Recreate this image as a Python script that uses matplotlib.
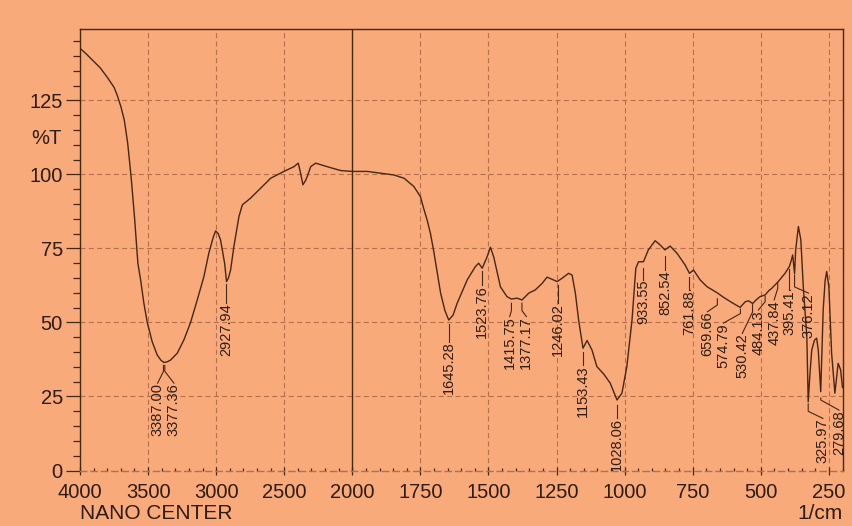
import numpy as np
import matplotlib
matplotlib.use("Agg")
import matplotlib.pyplot as plt
from matplotlib.ticker import FixedLocator

plt.rcParams['font.family'] = ['Liberation Sans', 'DejaVu Sans']

# spectrum (wavenumber 1/cm, %T)
wavenumber = [4000, 3950, 3900, 3850, 3800, 3750, 3725, 3700, 3675, 3650,
              3625, 3600, 3575, 3555, 3531, 3506, 3470, 3433, 3405, 3384,
              3360, 3335, 3286, 3237, 3188, 3139, 3090, 3054, 3020, 3004,
              2985, 2968, 2938, 2924, 2910, 2894, 2870, 2833, 2808, 2747,
              2674, 2600, 2503, 2429, 2397, 2380, 2363, 2345, 2331, 2306,
              2270, 2184, 2086, 2000, 1945, 1896, 1847, 1810, 1774, 1750,
              1738, 1725, 1713, 1701, 1676, 1660, 1646, 1630, 1615, 1578,
              1548, 1536, 1523, 1505, 1493, 1481, 1456, 1432, 1416, 1395,
              1377, 1352, 1328, 1303, 1285, 1267, 1248, 1230, 1206, 1193,
              1181, 1169, 1153, 1138, 1120, 1102, 1077, 1053, 1028, 1010,
              992, 973, 959, 949, 931, 913, 888, 870, 852, 833,
              808, 778, 762, 747, 723, 698, 667, 660, 637, 606,
              576, 557, 545, 530, 515, 503, 484, 470, 460, 436,
              411, 395, 388, 383, 376, 372, 362, 353, 344, 331,
              326, 320, 313, 303, 295, 289, 280, 271, 264, 258,
              250, 240, 228, 216, 207, 200]
transmittance = [142.6, 140.5, 138.2, 135.9, 132.8, 129.4, 126.5, 122.9, 118.4, 110.6,
                 99.3, 85.7, 70.0, 64.4, 56.5, 50.0, 43.5, 39.0, 37.2, 36.5,
                 36.7, 37.3, 39.6, 44.1, 50.0, 57.6, 65.5, 73.4, 79.0, 80.9,
                 80.0, 77.9, 70.0, 63.8, 65.0, 67.7, 75.6, 85.7, 89.7, 92.0,
                 95.3, 98.7, 101.0, 102.6, 103.8, 100.4, 96.5, 97.8, 99.3, 102.6,
                 103.8, 102.6, 101.3, 101.0, 101.0, 100.4, 99.8, 98.7, 95.9, 92.5,
                 88.5, 84.5, 80.0, 74.0, 60.0, 54.0, 50.8, 52.5, 56.5, 64.4,
                 68.9, 70.0, 68.3, 72.2, 75.4, 72.2, 62.0, 58.7, 57.9, 58.2,
                 57.6, 59.9, 61.0, 63.2, 65.3, 64.6, 63.8, 64.9, 66.6, 66.0,
                 59.9, 50.8, 41.3, 43.9, 40.7, 35.1, 32.6, 29.5, 23.8, 26.1,
                 35.1, 50.8, 68.3, 70.5, 70.5, 74.5, 77.6, 76.2, 74.5, 75.8,
                 73.4, 69.4, 66.6, 67.7, 64.4, 62.1, 60.4, 60.0, 58.5, 56.7,
                 55.1, 57.0, 57.3, 56.4, 57.8, 58.7, 59.3, 60.8, 61.5, 63.8,
                 66.6, 68.9, 71.0, 72.8, 66.5, 74.5, 82.4, 77.9, 62.0, 45.2,
                 23.2, 32.0, 40.7, 44.0, 44.7, 40.7, 26.6, 54.2, 64.0, 67.2,
                 62.0, 39.6, 26.1, 36.2, 34.0, 28.0]

# peak labels: text, leader top (%T), knee (%T), text x (1/cm), text top (%T)
peak_labels = ["3387.00", "3377.36", "2927.94", "1645.28", "1523.76", "1415.75",
               "1377.17", "1246.02", "1153.43", "1028.06", "933.55", "852.54",
               "761.88", "659.66", "574.79", "530.42", "484.13", "437.84",
               "395.41", "376.12", "325.97", "279.68"]
leader_top = [35.5, 35.5, 63, 49.5, 67.5, 56.5, 56.5, 62.5, 40, 22, 68.5, 72.5,
              65.5, 58, 54.5, 56, 58.8, 63.3, 68, 66, 22.5, 24.5]
leader_knee = [33.5, 33.5, 56.6, 43.5, 62.7, 54, 54, 56.5, 35.6, 17.6, 64.4, 67.7,
               61, 55.9, 53, 53.5, 57, 61.5, 61, 62, 20, 23.8]
text_x = [3430, 3310, 2928, 1645, 1524, 1422, 1361, 1246, 1153, 1028, 933, 852,
          761, 696, 637, 568, 509, 451, 393, 325, 272, 213]
text_top = [29.5, 29.5, 56.6, 43.5, 62.7, 52, 52, 56.5, 35.6, 17.6, 64.4, 67.7,
            61, 53.6, 49.8, 46.3, 54.2, 57.6, 61, 59.9, 17.6, 20.4]

major_x = [4000, 3500, 3000, 2500, 2000, 1750, 1500, 1250, 1000, 750, 500, 250]
minor_x = list(range(4000, 2000, -100)) + list(range(2000, 199, -50))

bg = '#f9aa7b'
ink = '#2e1c12'
line_c = '#452716'
grid_c = '#b56f4a'


# x axis is compressed 2:1 above 2000 1/cm (like the instrument print)
def fwd(x):
    x = np.asarray(x, dtype=float)
    return np.where(x > 2000, 2000 + (x - 2000) / 2.0, x)


def inv(u):
    u = np.asarray(u, dtype=float)
    return np.where(u > 2000, 2000 + (u - 2000) * 2.0, u)


fig = plt.figure(figsize=(8.53, 5.26), dpi=100, facecolor=bg)
ax = fig.add_axes([0.0938, 0.1055, 0.8939, 0.8388])
ax.set_facecolor(bg)
ax.set_xscale('function', functions=(fwd, inv))
ax.set_xlim(4000, 200)
ax.set_ylim(0, 149)

ax.xaxis.set_major_locator(FixedLocator(major_x))
ax.xaxis.set_minor_locator(FixedLocator(minor_x))
ax.set_xticklabels([str(v) for v in major_x])
ax.set_yticks([0, 25, 50, 75, 100, 125])
ax.yaxis.set_minor_locator(FixedLocator(list(range(0, 150, 5))))

ax.grid(True, which='major', color=grid_c, ls=(0, (4.5, 3)), lw=0.8)
ax.axvline(2000, color=line_c, lw=1.0)

for s in ax.spines.values():
    s.set_color(line_c)
    s.set_linewidth(1.0)
ax.spines['bottom'].set_linestyle((0, (4.5, 3)))
ax.spines['bottom'].set_color(grid_c)

ax.tick_params(axis='y', which='major', direction='out', length=10, width=0.9,
               color=line_c, labelsize=14.5, labelcolor=ink, pad=2.4)
ax.tick_params(axis='y', which='minor', direction='out', length=5.4, width=0.9,
               color=line_c)
ax.tick_params(axis='x', which='major', direction='inout', length=5.8, width=0.9,
               color=line_c, labelsize=14.5, labelcolor=ink, pad=6)
ax.tick_params(axis='x', which='minor', direction='in', length=2.5, width=0.9,
               color=line_c)

ax.plot(wavenumber, transmittance, color=line_c, lw=1.0)

# peak labels with leader lines
for i, lab in enumerate(peak_labels):
    pk = float(lab)
    ax.plot([pk, pk, text_x[i]], [leader_top[i], leader_knee[i], text_top[i]],
            color=line_c, lw=0.8)
    ax.text(text_x[i], text_top[i], lab, rotation=90, ha='center', va='top',
            fontsize=10.5, color=ink, clip_on=True)

ax.text(-0.024, 112, '%T', transform=ax.get_yaxis_transform(), ha='right',
        va='center', fontsize=14.5, color=ink)
fig.text(0.0938, 0.024, 'NANO CENTER', ha='left', va='center', fontsize=15, color=ink)
fig.text(0.988, 0.024, '1/cm', ha='right', va='center', fontsize=15, color=ink)

fig.savefig('out.png', dpi=100, facecolor=bg)
